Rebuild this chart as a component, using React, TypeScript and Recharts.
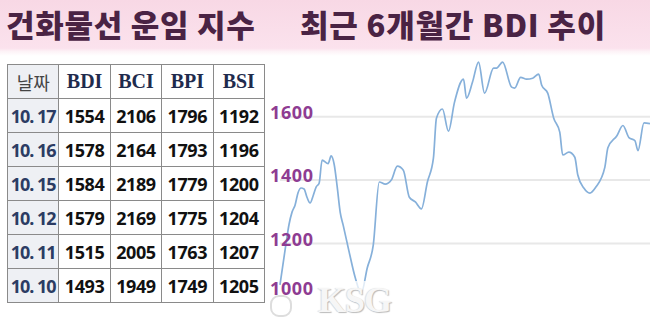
import { LineChart, Line, XAxis, YAxis, CartesianGrid } from "recharts";

// BDI trend, last ~6 months (trading-day index)
const days = [
  0, 2, 3, 4, 5, 6, 7, 8, 9, 10, 11, 12, 13, 14, 16, 17, 18, 19, 20, 21, 23, 25,
  27, 29, 31, 33, 35, 37, 39, 41, 43, 45, 47, 49, 51, 52, 54, 56, 58, 61, 62, 64,
  66, 68, 71, 72, 74, 77, 78, 80, 82, 84, 86, 87, 89, 91, 93, 94, 96, 98, 99, 101,
  103, 105, 108, 109, 112, 114, 116, 118, 119, 121, 123,
];
const bdi = [
  1070, 1200, 1260, 1299, 1321, 1360, 1375, 1372, 1345, 1328, 1350, 1378, 1390,
  1463, 1452, 1476, 1450, 1380, 1299, 1258, 1173, 1093, 1043, 1123, 1195, 1394,
  1387, 1400, 1444, 1431, 1346, 1331, 1309, 1394, 1469, 1595, 1624, 1554, 1645,
  1718, 1658, 1709, 1772, 1674, 1753, 1753, 1772, 1693, 1690, 1724, 1718, 1721,
  1734, 1699, 1674, 1595, 1551, 1479, 1488, 1472, 1416, 1375, 1359, 1378, 1441,
  1502, 1540, 1572, 1534, 1524, 1493, 1580, 1578,
];
const yTicks = [1000, 1200, 1400, 1600];
const gridValues = [1200, 1400, 1600];

// recent daily table
const headers = ["날짜", "BDI", "BCI", "BPI", "BSI"];
const dates = ["10. 17", "10. 16", "10. 15", "10. 12", "10. 11", "10. 10"];
const bdiCol = [1554, 1578, 1584, 1579, 1515, 1493];
const bciCol = [2106, 2164, 2189, 2169, 2005, 1949];
const bpiCol = [1796, 1793, 1779, 1775, 1763, 1749];
const bsiCol = [1192, 1196, 1200, 1204, 1207, 1205];

const chartData = days.map((d, i) => ({ day: d, bdi: bdi[i] }));

const border = "1px solid #8a8a8a";

const renderTick = (props: any) => {
  const { y, payload } = props;
  const v = payload.value;
  return (
    <text
      key={v}
      x={2}
      y={y}
      dy={v === 1000 ? -12 : 2}
      fill="#8e3c92"
      fontFamily="'Noto Sans', sans-serif"
      fontWeight={700}
      fontSize={18}
      letterSpacing={0.6}
    >
      {v}
    </text>
  );
};

export default function App() {
  return (
    <div
      style={{
        position: "absolute",
        left: 0,
        top: 0,
        width: 650,
        height: 320,
        background: "#fff",
        overflow: "hidden",
      }}
    >
      <div
        style={{
          position: "absolute",
          left: 0,
          top: 0,
          width: 650,
          height: 56,
          background:
            "linear-gradient(180deg, #f8d8e5 0%, #fbe2ed 86%, #fdf3f7 92%, #ffffff 100%)",
          fontFamily: "'Noto Sans CJK KR', sans-serif",
          fontWeight: 900,
          fontSize: 31,
          lineHeight: "44px",
          color: "#4a2344",
        }}
      >
        <span style={{ position: "absolute", left: 6, top: 2, letterSpacing: 0.7 }}>
          건화물선 운임 지수
        </span>
        <span style={{ position: "absolute", left: 300, top: 2, letterSpacing: 0.8 }}>
          최근 6개월간 BDI 추이
        </span>
      </div>

      <div style={{ position: "absolute", left: 268, top: 50 }}>
        <LineChart
          width={382}
          height={270}
          data={chartData}
          margin={{ top: 0, right: 0, left: 12, bottom: 0 }}
        >
          <CartesianGrid
            vertical={false}
            horizontalValues={gridValues}
            stroke="#e8e8e8"
            strokeWidth={2}
          />
          <XAxis dataKey="day" type="number" domain={[0, 123]} hide />
          <YAxis
            domain={[959, 1810]}
            ticks={yTicks}
            width={1}
            mirror
            axisLine={false}
            tickLine={false}
            tick={renderTick}
            allowDataOverflow
          />
          <Line
            type="monotone"
            dataKey="bdi"
            stroke="#86b0da"
            strokeWidth={1.7}
            dot={false}
            isAnimationActive={false}
          />
        </LineChart>
      </div>

      <table
        style={{
          position: "absolute",
          left: 7,
          top: 64,
          width: 258,
          borderCollapse: "collapse",
          tableLayout: "fixed",
          background: "#fff",
        }}
      >
        <thead>
          <tr style={{ height: 34 }}>
            {headers.map((h, i) => (
              <th
                key={h}
                style={{
                  border,
                  padding: 0,
                  textAlign: "center",
                  background: i === 0 ? "#eef0f4" : "#fff",
                  fontFamily:
                    i === 0
                      ? "'Noto Sans CJK KR', sans-serif"
                      : "'Liberation Serif', serif",
                  fontWeight: i === 0 ? 400 : 700,
                  fontSize: i === 0 ? 18 : 20,
                  color: i === 0 ? "#444" : "#1f2b4d",
                }}
              >
                {h}
              </th>
            ))}
          </tr>
        </thead>
        <tbody>
          {dates.map((d, r) => (
            <tr key={d} style={{ height: 34 }}>
              {[d, bdiCol[r], bciCol[r], bpiCol[r], bsiCol[r]].map((c, i) => (
                <td
                  key={i}
                  style={{
                    border,
                    padding: 0,
                    textAlign: "center",
                    background: i === 0 ? "#eef0f4" : "#fff",
                    fontFamily: "'Noto Sans', sans-serif",
                    fontWeight: 700,
                    fontSize: 18,
                    letterSpacing: i === 0 ? -1 : -0.4,
                    color: i === 0 ? "#2b3c63" : "#111",
                    whiteSpace: "nowrap",
                    overflow: "hidden",
                  }}
                >
                  {c}
                </td>
              ))}
            </tr>
          ))}
        </tbody>
      </table>

      {/* KSG watermark */}
      <div
        style={{
          position: "absolute",
          left: 318,
          top: 281,
          width: 76,
          height: 38,
          background: "rgba(255,255,255,0.75)",
          fontFamily: "'Liberation Serif', serif",
          fontWeight: 700,
          fontSize: 36,
          lineHeight: "38px",
          color: "#f6f6f6",
          textShadow: "1px 1px 1px #bbb, -1px 0 1px #ddd",
          letterSpacing: -1,
          whiteSpace: "nowrap",
        }}
      >
        KSG
      </div>
      <div
        style={{
          position: "absolute",
          left: 270,
          top: 295,
          width: 18,
          height: 18,
          borderRadius: 9,
          border: "2px solid #ddd",
          background: "rgba(255,255,255,0.6)",
        }}
      />
    </div>
  );
}
